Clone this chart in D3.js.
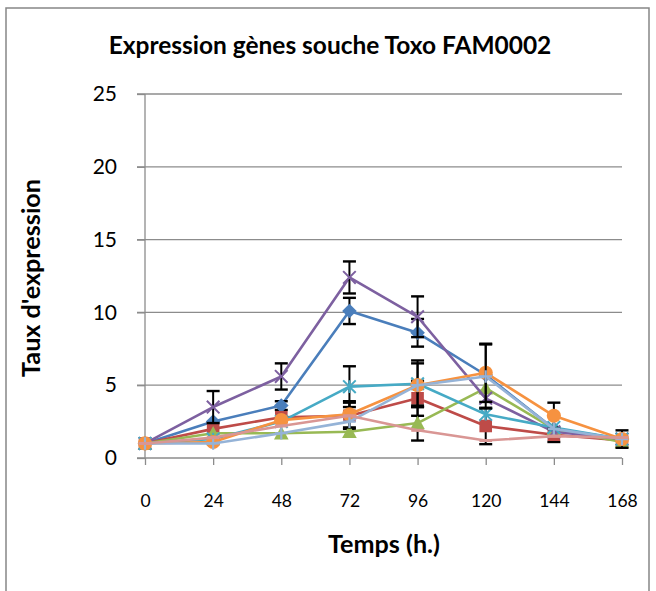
<!DOCTYPE html>
<html><head><meta charset="utf-8">
<script src="https://cdn.jsdelivr.net/npm/d3@7"></script>
<style>body{margin:0;background:#fff}svg{display:block}</style>
</head><body>
<svg id="c" width="656" height="591"></svg>
<script>
const hours = [0, 24, 48, 72, 96, 120, 144, 168];
const yTicks = [0, 5, 10, 15, 20, 25];
const titleText = "Expression gènes souche Toxo FAM0002";
const xTitle = "Temps (h.)";
const yTitle = "Taux d'expression";

const seriesNames = ["S1","S2","S3","S4","S5","S6","S7","S8"];
const s1 = [1, 2.5, 3.6, 10.1, 8.6, 5.7, 2.0, 1.3];
const s2 = [1, 2.0, 2.8, 2.9, 4.1, 2.2, 1.6, 1.2];
const s3 = [1, 1.7, 1.7, 1.8, 2.4, 4.8, 2.0, 1.1];
const s4 = [1, 3.5, 5.6, 12.4, 9.7, 4.1, 1.8, 1.3];
const s5 = [1, 1.3, 2.5, 4.9, 5.1, 3.0, 2.1, 1.3];
const s6 = [1, 1.1, 2.6, 3.0, 5.0, 5.85, 2.9, 1.3];
const s7 = [1, 1.0, 1.7, 2.5, 5.0, 5.6, 2.0, 1.3];
const s8 = [1, 1.4, 2.2, 2.9, 1.9, 1.2, 1.5, 1.4];

const e1 = [0, 0, 0.3, 0.9, 0.95, 0, 0, 0];
const e2 = [0, 0, 0, 0.9, 1.2, 1.25, 0.5, 0];
const e3 = [0, 0, 0, 0, 1.2, 0, 0, 0];
const e4 = [0, 1.1, 0.9, 1.1, 1.4, 0, 0, 0];
const e5 = [0, 0, 0, 1.4, 1.6, 0, 0, 0];
const e6 = [0, 0, 0, 0.9, 1.5, 2.0, 0.9, 0.6];
const e7 = [0, 0, 0, 0, 0, 2.2, 0, 0];
const e8 = [0, 0, 0, 0, 0, 0, 0, 0];

const colors = ["#4A7EBB","#BE4B48","#98B954","#7D60A0","#46AAC5","#F69240","#95B3D7","#D99694"];
const markers = ["diamond","square","triangle","x","star","circle","plus","dash"];
const values = [s1,s2,s3,s4,s5,s6,s7,s8];
const errors = [e1,e2,e3,e4,e5,e6,e7,e8];

const svg = d3.select("#c");
const FONT = "Lato, 'Open Sans', sans-serif";

// outer frame
svg.append("rect").attr("x",6).attr("y",8).attr("width",643).attr("height",600)
  .attr("fill","#fff").attr("stroke","#868686").attr("stroke-width",1.5);

const x = d3.scaleLinear().domain([0,168]).range([145,622]);
const y = d3.scaleLinear().domain([0,25]).range([458,94]);

// gridlines
svg.append("g").selectAll("line").data(yTicks.filter(d=>d>0)).join("line")
  .attr("x1",137).attr("x2",622).attr("y1",d=>y(d)).attr("y2",d=>y(d))
  .attr("stroke","#8c8c8c").attr("stroke-width",1.3);

// y axis
const ya = svg.append("g").attr("transform","translate(145,0)")
  .call(d3.axisLeft(y).tickValues(yTicks).tickSize(8).tickPadding(20));
ya.select(".domain").attr("stroke","#8c8c8c").attr("stroke-width",1.3).attr("d","M0,"+y(0)+"V"+y(25));
ya.selectAll(".tick line").attr("stroke","#8c8c8c").attr("stroke-width",1.3);
ya.selectAll(".tick text").attr("font-family",FONT).attr("font-size",21).attr("fill","#000");

// x axis
const xa = svg.append("g").attr("transform","translate(0,458)")
  .call(d3.axisBottom(x).tickValues(hours).tickSize(7).tickPadding(30));
xa.select(".domain").attr("stroke","#8c8c8c").attr("stroke-width",1.3).attr("d","M137,0H622");
xa.selectAll(".tick line").attr("stroke","#8c8c8c").attr("stroke-width",1.3);
xa.selectAll(".tick text").attr("font-family",FONT).attr("font-size",17.5).attr("fill","#000");

function fit(sel, target){
  let fs = +sel.attr("font-size");
  const w = sel.node().getComputedTextLength();
  if (w>0) sel.attr("font-size", fs*target/w);
}

const t = svg.append("text").attr("x",330).attr("y",54).attr("text-anchor","middle")
  .attr("font-family",FONT).attr("font-weight","bold").attr("font-size",20).text(titleText);
fit(t, 443);

const xt = svg.append("text").attr("x",384).attr("y",553).attr("text-anchor","middle")
  .attr("font-family",FONT).attr("font-weight","bold").attr("font-size",18).text(xTitle);
fit(xt, 112);

const yt = svg.append("text").attr("transform","translate(40,278) rotate(-90)").attr("text-anchor","middle")
  .attr("font-family",FONT).attr("font-weight","bold").attr("font-size",18).text(yTitle);
fit(yt, 198);

const line = d3.line().x((d,i)=>x(hours[i])).y(d=>y(d));

function drawMarker(g, type, cx, cy, col){
  const s = 6.3;
  if (type==="diamond"){
    g.append("path").attr("d",`M${cx},${cy-s-1}L${cx+s+1},${cy}L${cx},${cy+s+1}L${cx-s-1},${cy}Z`).attr("fill",col);
  } else if (type==="square"){
    g.append("rect").attr("x",cx-s).attr("y",cy-s).attr("width",2*s).attr("height",2*s).attr("fill",col);
  } else if (type==="triangle"){
    g.append("path").attr("d",`M${cx},${cy-s-1}L${cx+s+1},${cy+s}L${cx-s-1},${cy+s}Z`).attr("fill",col);
  } else if (type==="circle"){
    g.append("circle").attr("cx",cx).attr("cy",cy).attr("r",s+0.8).attr("fill",col);
  } else if (type==="x"){
    g.append("path").attr("d",`M${cx-s},${cy-s}L${cx+s},${cy+s}M${cx-s},${cy+s}L${cx+s},${cy-s}`)
      .attr("stroke",col).attr("stroke-width",2).attr("fill","none");
  } else if (type==="star"){
    g.append("path").attr("d",`M${cx-s},${cy-s}L${cx+s},${cy+s}M${cx-s},${cy+s}L${cx+s},${cy-s}M${cx},${cy-s}V${cy+s}`)
      .attr("stroke",col).attr("stroke-width",2).attr("fill","none");
  } else if (type==="plus"){
    g.append("path").attr("d",`M${cx-s},${cy}H${cx+s}M${cx},${cy-s}V${cy+s}`)
      .attr("stroke",col).attr("stroke-width",2.2).attr("fill","none");
  } else if (type==="dash"){
    g.append("path").attr("d",`M${cx-s},${cy}H${cx+s}`)
      .attr("stroke",col).attr("stroke-width",3).attr("fill","none");
  }
}

values.forEach((vals, k)=>{
  const g = svg.append("g").attr("class","series "+seriesNames[k]);
  g.append("path").attr("d", line(vals)).attr("fill","none").attr("stroke",colors[k])
    .attr("stroke-width",2.6).attr("stroke-linejoin","round");
  const eg = g.append("g");
  vals.forEach((v,i)=>{
    const e = errors[k][i];
    if (!e) return;
    const cx = x(hours[i]), y1 = y(v+e), y2 = y(v-e);
    eg.append("line").attr("x1",cx).attr("x2",cx).attr("y1",y1).attr("y2",y2).attr("stroke","#000").attr("stroke-width",2);
    [y1,y2].forEach(yy=>eg.append("line").attr("x1",cx-6.5).attr("x2",cx+6.5).attr("y1",yy).attr("y2",yy).attr("stroke","#000").attr("stroke-width",2.4));
  });
  vals.forEach((v,i)=>drawMarker(g, markers[k], x(hours[i]), y(v), colors[k]));
});
</script>
</body></html>
